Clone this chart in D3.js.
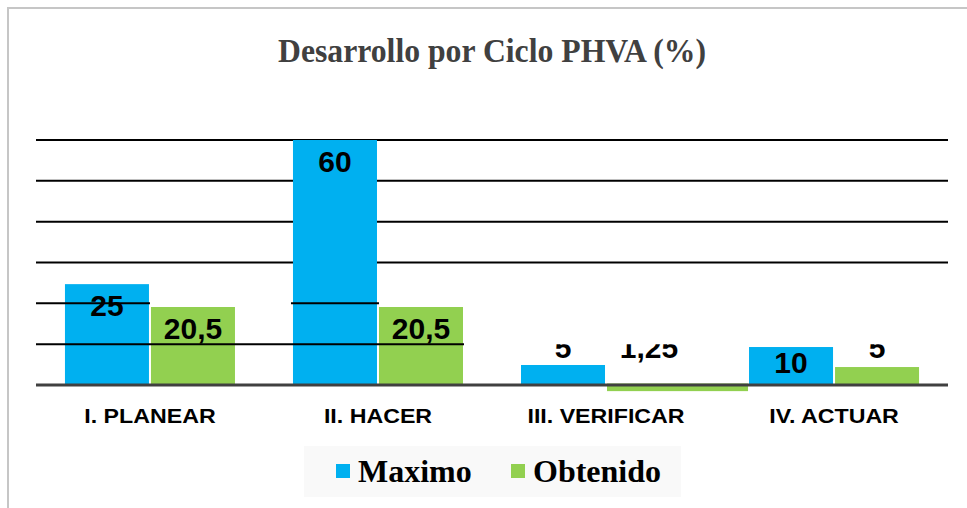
<!DOCTYPE html>
<meta charset="utf-8" />
<style>
  body {
    margin: 0;
    background: #fff;
  }
  .cat {
    font: bold 20px 'Liberation Sans', Arial, sans-serif;
    fill: #000;
  }
  .lbl {
    font: bold 30px 'Liberation Sans', Arial, sans-serif;
    fill: #000;
  }
  .legend text {
    font: bold 32px 'Liberation Serif', 'Times New Roman', serif;
    fill: #000;
  }
</style>
<svg width="967" height="508"></svg>
<script src="https://d3js.org/d3.v7.min.js"></script>
<script>
  // values (bar heights) and the printed data labels
  var categories = ['I. PLANEAR', 'II. HACER', 'III. VERIFICAR', 'IV. ACTUAR'];
  var seriesNames = ['Maximo', 'Obtenido'];
  var maximo = [24.7, 60, 4.9, 9.3];
  var obtenido = [19.1, 19.1, -1.5, 4.4];
  var maximoLabels = ['25', '60', '5', '10'];
  var obtenidoLabels = ['20,5', '20,5', '1,25', '5'];
  var gridTicks = [10, 20, 30, 40, 50, 60];

  var colors = { Maximo: '#00B0F0', Obtenido: '#92D050' };

  var svg = d3.select('svg'),
    margin = { left: 36, right: 19 },
    width = +svg.attr('width');

  var data = categories.map(function (c, i) {
    return {
      cat: c,
      i: i,
      bars: [
        { key: 'Maximo', value: maximo[i], label: maximoLabels[i] },
        { key: 'Obtenido', value: obtenido[i], label: obtenidoLabels[i] },
      ],
    };
  });

  var x0 = d3
    .scaleBand()
    .domain(categories)
    .range([margin.left, width - margin.right])
    .paddingInner(0.2544)
    .paddingOuter(0.127);

  var x1 = d3
    .scaleBand()
    .domain(seriesNames)
    .range([0, x0.bandwidth()])
    .paddingInner(0.0233);

  var y = d3.scaleLinear().domain([0, 60]).range([385, 140]);

  var left = margin.left,
    right = width - margin.right,
    bw = x1.bandwidth();

  // chart frame
  svg
    .append('rect')
    .attr('x', 8)
    .attr('y', 8)
    .attr('width', 1000)
    .attr('height', 600)
    .attr('fill', '#fff')
    .attr('stroke', '#c6c6c6')
    .attr('stroke-width', 2);

  // title
  svg
    .append('text')
    .attr('x', (left + right) / 2)
    .attr('y', 62)
    .attr('text-anchor', 'middle')
    .attr('textLength', 428)
    .attr('lengthAdjust', 'spacingAndGlyphs')
    .style('font', "bold 34px 'Liberation Serif', 'Times New Roman', serif")
    .style('fill', '#404040')
    .text('Desarrollo por Ciclo PHVA (%)');

  // gridlines behind the bars
  svg
    .append('g')
    .selectAll('line')
    .data(gridTicks.filter(function (t) { return t >= 30; }))
    .enter()
    .append('line')
    .attr('x1', left)
    .attr('x2', right)
    .attr('y1', function (d) { return y(d); })
    .attr('y2', function (d) { return y(d); })
    .attr('stroke', '#000')
    .attr('stroke-width', 2);

  var group = svg
    .append('g')
    .selectAll('g')
    .data(data)
    .enter()
    .append('g')
    .attr('transform', function (d) {
      return 'translate(' + x0(d.cat) + ',0)';
    });

  // positive bars
  group
    .selectAll('rect.pos')
    .data(function (d) {
      return d.bars.filter(function (b) { return b.value >= 0; });
    })
    .enter()
    .append('rect')
    .attr('class', 'pos')
    .attr('x', function (d) { return x1(d.key); })
    .attr('y', function (d) { return y(d.value); })
    .attr('width', bw)
    .attr('height', function (d) { return y(0) - y(d.value); })
    .attr('fill', function (d) { return colors[d.key]; });

  // the lower gridlines are only drawn on the left part, over the bars
  var ii = categories[1];
  var lowSegments = [
    { v: 20, a: left, b: x0(categories[0]) + x1('Maximo') + bw + 1 },
    { v: 20, a: x0(ii) - 2, b: x0(ii) + bw + 2 },
    { v: 10, a: left, b: x0(ii) + x1('Obtenido') + bw + 1 },
  ];
  svg
    .append('g')
    .selectAll('line')
    .data(lowSegments)
    .enter()
    .append('line')
    .attr('x1', function (d) { return d.a; })
    .attr('x2', function (d) { return d.b; })
    .attr('y1', function (d) { return y(d.v); })
    .attr('y2', function (d) { return y(d.v); })
    .attr('stroke', '#000')
    .attr('stroke-width', 2);

  // baseline
  svg
    .append('line')
    .attr('x1', left)
    .attr('x2', right)
    .attr('y1', y(0))
    .attr('y2', y(0))
    .attr('stroke', '#404040')
    .attr('stroke-width', 3);

  // negative bars sit over the baseline and run up to the next group
  group
    .selectAll('rect.neg')
    .data(function (d) {
      return d.bars
        .filter(function (b) { return b.value < 0; })
        .map(function (b) {
          b.i = d.i;
          return b;
        });
    })
    .enter()
    .append('rect')
    .attr('class', 'neg')
    .attr('x', function (d) { return x1(d.key); })
    .attr('y', y(0) - 1.5)
    .attr('width', function (d) {
      var next = categories[d.i + 1];
      return next ? x0(next) - x0(categories[d.i]) - x1(d.key) - 1 : bw;
    })
    .attr('height', function (d) { return y(d.value) - y(0) + 1.5; })
    .attr('fill', function (d) { return colors[d.key]; });

  // labels on the right half are cut off at the 10 line
  svg
    .append('clipPath')
    .attr('id', 'cut')
    .append('rect')
    .attr('x', 0)
    .attr('y', y(10))
    .attr('width', width)
    .attr('height', 200);

  group
    .selectAll('text.lbl')
    .data(function (d) {
      return d.bars.map(function (b) {
        b.i = d.i;
        return b;
      });
    })
    .enter()
    .append('text')
    .attr('class', 'lbl')
    .attr('text-anchor', 'middle')
    .attr('clip-path', function (d) {
      return d.i >= 2 ? 'url(#cut)' : null;
    })
    .attr('x', function (d) { return x1(d.key) + bw / 2; })
    .attr('y', function (d) {
      if (d.value >= 8) return Math.min(y(d.value) + 32, y(0) - 12);
      return y(0) - 27;
    })
    .text(function (d) { return d.label; });

  // category labels
  svg
    .append('g')
    .selectAll('text')
    .data(categories)
    .enter()
    .append('text')
    .attr('class', 'cat')
    .attr('text-anchor', 'middle')
    .attr('transform', function (d) {
      return 'translate(' + (x0(d) + x0.bandwidth() / 2) + ',423) scale(1.16,1)';
    })
    .text(function (d) { return d; });

  // legend
  var legend = svg.append('g').attr('class', 'legend');
  legend
    .append('rect')
    .attr('x', 304)
    .attr('y', 446)
    .attr('width', 377)
    .attr('height', 51)
    .attr('fill', '#f9f9f9');

  var lx = [336, 511];
  var item = legend
    .selectAll('g')
    .data(seriesNames)
    .enter()
    .append('g')
    .attr('transform', function (d, i) {
      return 'translate(' + lx[i] + ',0)';
    });
  item
    .append('rect')
    .attr('y', 464)
    .attr('width', 14)
    .attr('height', 14)
    .attr('fill', function (d) { return colors[d]; });
  item
    .append('text')
    .attr('x', 22)
    .attr('y', 482)
    .text(function (d) { return d; });
</script>
